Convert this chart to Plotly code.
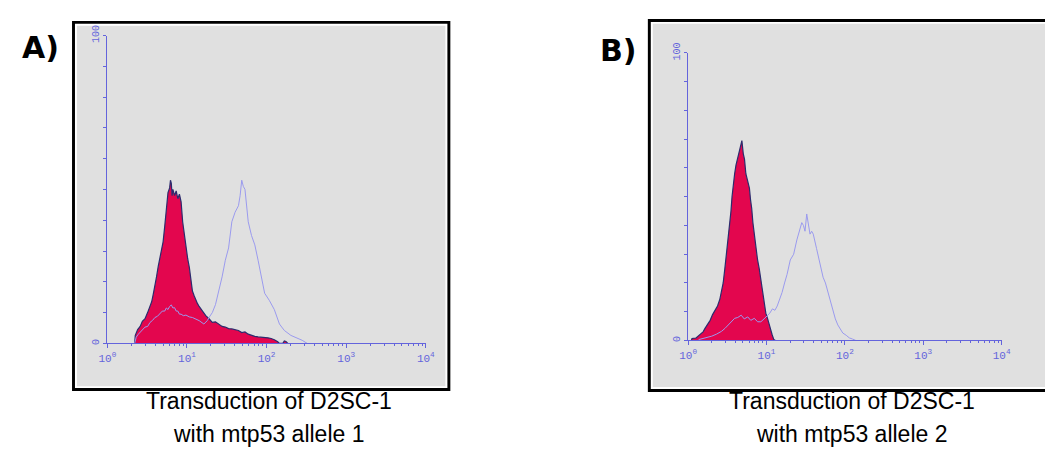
import plotly.graph_objects as go

# The page adds an 8 px body margin; the figure is sized so that the page is exactly 1053x468.
PAGE_W, PAGE_H = 1053, 468
MARGIN = 8
W, H = PAGE_W - 2 * MARGIN, PAGE_H - 2 * MARGIN

# ---------------- data ----------------
# Panel A : filled (control) histogram
a_fill_x = [2.2, 2.24, 2.4, 2.58, 2.75, 2.97, 3.2, 3.43, 3.6, 3.77, 3.95, 4.14, 4.35, 4.55, 4.78,
            5.01, 5.25, 5.51, 5.77, 6.05, 6.2, 6.35, 6.5, 6.65, 6.98, 7.31, 7.67, 8.03, 8.43, 8.82,
            9.27, 9.70, 10.2, 10.7, 11.2, 11.7, 12.3, 12.9, 13.5, 14.2, 15.6, 17.2, 18.9, 20.8,
            22.8, 25.1, 27.6, 30.3, 33.3, 36.6, 40.2, 44.3, 48.7, 53.5, 58.8, 64.7, 71.1, 78.2,
            86.0, 94.5, 104, 114, 125, 138, 145, 160, 167, 175, 185]
a_fill_y = [0, 2.6, 4.5, 5.5, 7.2, 8, 10, 12, 13.5, 16, 18.5, 21.6, 25, 28, 30.5,
            33, 38, 42.6, 49, 50.5, 53, 52, 48, 50, 48, 49.5, 47, 48.5, 46, 39.5,
            35, 31, 27.5, 24.7, 20, 17, 15.5, 14, 13, 12, 10.5, 9, 8, 6.8,
            7, 6.3, 5.5, 5.3, 4.8, 4.7, 4.4, 4.2, 3.5, 3.7, 3.0, 2.6, 2.3, 2.1,
            2.0, 2.1, 1.8, 1.6, 1.2, 0.5, 0, 0, 0.8, 0.6, 0]

# Panel A : open (mtp53 allele 1) histogram
a_open_x = [2.2, 2.3, 2.45, 2.58, 2.75, 2.97, 3.2, 3.43, 3.7, 3.95, 4.25, 4.55, 4.9, 5.25, 5.5,
            5.77, 6.05, 6.35, 6.65, 6.98, 7.31, 7.67, 8.03, 8.43, 9.0, 9.7, 10.7, 11.7, 12.9,
            14.2, 16.3, 18.0, 18.9, 20.8, 22.8, 25.1, 27.6, 30.3, 33.3, 36.6, 40.2, 44.3, 46.5,
            48.7, 51, 53.5, 56, 58.8, 64.7, 71.1, 78.2, 86.0, 94.5, 108, 125, 145, 167, 202,
            244, 280, 324]
a_open_y = [0, 2, 3, 3.7, 4.5, 5.3, 5.5, 6.8, 7.5, 8.4, 8.8, 9.5, 10.5, 10.5, 11.5,
            11, 12, 12.5, 11.5, 11.6, 10.5, 10.5, 9.5, 9.5, 9, 9.2, 8.6, 8.4, 8,
            7.4, 6.3, 7.4, 8.4, 10, 12.6, 17, 21.6, 27, 31, 39.5, 42.6, 44.7, 48,
            53, 51, 50, 44, 39.5, 35, 32, 27, 21.6, 16.3, 14, 11, 6.3, 4.2, 2.6,
            1.8, 1, 0]

# Panel B : filled (control) histogram
b_fill_x = [1.1, 1.12, 1.25, 1.43, 1.55, 1.65, 1.78, 1.91, 2.05, 2.20, 2.37, 2.54, 2.67, 2.80,
            2.94, 3.08, 3.24, 3.40, 3.52, 3.63, 3.78, 3.92, 4.08, 4.24, 4.38, 4.53, 4.7, 4.85,
            5.05, 5.24, 5.45, 5.65, 5.85, 6.05, 6.25, 6.47, 6.7, 6.99, 7.33, 7.69, 8.07, 8.47,
            8.9, 9.33, 9.8, 10.3, 10.8, 11.3, 11.8, 12.4, 13.0]
b_fill_y = [0, 0.7, 0.8, 2, 3, 4.3, 5.5, 7, 9, 10.5, 12, 14.4, 17, 20,
            25, 30, 35, 40, 45, 50, 55, 58, 61, 63, 64, 66, 68, 69.5,
            65, 63, 58, 56, 54, 53, 49, 46, 41, 37, 32, 28, 25, 21,
            16, 12, 9.5, 7.7, 5.5, 3.7, 2, 0.3, 0]

# Panel B : open (mtp53 allele 2) histogram
b_open_x = [1.36, 1.6, 2.0, 2.3, 2.67, 2.95, 3.24, 3.55, 3.92, 4.3, 4.75, 5.2, 5.76, 6.3, 6.99,
            7.7, 8.47, 9.3, 10.3, 11.0, 11.9, 12.8, 13.7, 14.7, 15.8, 17.0, 18.3, 20.1, 22.2,
            24.4, 26.9, 28.2, 29.6, 31.0, 32.6, 34.2, 35.9, 37.7, 39.5, 43.5, 47.9, 52.7, 56.5,
            60.9, 65.5, 70.4, 75.6, 81.3, 87.5, 94.0, 104, 114, 125, 138]
b_open_y = [0.3, 0.8, 1.5, 2.2, 3.2, 4.2, 5.4, 6.5, 7.7, 8, 8.8, 7.5, 8.2, 7, 7.7,
            6.5, 6.5, 7.5, 8.8, 9.5, 11, 10.5, 12, 14, 16.7, 20, 23, 28, 30,
            35, 39, 41, 40, 38, 44, 40, 37, 38, 37, 32, 27, 22, 20,
            16.7, 13, 10, 7.5, 5.4, 4, 2.6, 1.8, 0.9, 0.5, 0]

x_tick_vals = [1, 10, 100, 1000, 10000]
x_tick_text = ["10<sup>0</sup>", "10<sup>1</sup>", "10<sup>2</sup>", "10<sup>3</sup>", "10<sup>4</sup>"]
y_tick_vals = [0, 10, 20, 30, 40, 50, 60, 70, 80, 90, 100]
y_tick_text = ["0", "", "", "", "", "", "", "", "", "", "100"]

panel_letters = ["A)", "B)"]
caption_line1 = ["Transduction of D2SC-1", "Transduction of D2SC-1"]
caption_line2 = ["with mtp53 allele 1", "with mtp53 allele 2"]

# ---------------- styling ----------------
FILL = "#e3064e"
FILL_LINE = "#2c2c6e"
OPEN_LINE = "#9a9aee"
AXIS = "#6464dc"
GRAY = "#e0e0e0"


def px(x):
    """page pixel x -> paper fraction"""
    return (x - MARGIN) / W


def py(y):
    """page pixel y (from top) -> paper fraction"""
    return 1 - (y - MARGIN) / H


fig = go.Figure()
for fx, fy, ox, oy, xa, ya in [(a_fill_x, a_fill_y, a_open_x, a_open_y, "x", "y"),
                               (b_fill_x, b_fill_y, b_open_x, b_open_y, "x2", "y2")]:
    fig.add_trace(go.Scatter(x=fx, y=fy, mode="lines", fill="tozeroy", fillcolor=FILL,
                             line=dict(color=FILL_LINE, width=1.2), xaxis=xa, yaxis=ya,
                             showlegend=False, hoverinfo="skip"))
    fig.add_trace(go.Scatter(x=ox, y=oy, mode="lines",
                             line=dict(color=OPEN_LINE, width=1), xaxis=xa, yaxis=ya,
                             showlegend=False, hoverinfo="skip"))

minor_vals = [m * 10 ** d for d in range(4) for m in range(2, 10)]

xcommon = dict(type="log", range=[0, 4], showgrid=False, zeroline=False, showline=True,
               linecolor=AXIS, linewidth=1, ticks="outside", ticklen=4, tickcolor=AXIS,
               tickvals=x_tick_vals, ticktext=x_tick_text,
               tickfont=dict(family="Liberation Mono", size=11, color=AXIS),
               minor=dict(ticks="outside", ticklen=2, tickcolor=AXIS, tickvals=minor_vals))
ycommon = dict(range=[0, 100], showgrid=False, zeroline=False, showline=True,
               linecolor=AXIS, linewidth=1, ticks="outside", ticklen=3, tickcolor=AXIS,
               tickvals=y_tick_vals, ticktext=y_tick_text, tickangle=-90,
               tickfont=dict(family="Liberation Mono", size=10, color=AXIS))

fig.update_layout(
    width=W, height=H, autosize=False,
    margin=dict(l=0, r=0, t=0, b=0),
    paper_bgcolor="white", plot_bgcolor="rgba(0,0,0,0)",
    xaxis=dict(domain=[px(100), px(424)], anchor="y", **xcommon),
    yaxis=dict(domain=[py(342), py(25)], anchor="x", **ycommon),
    xaxis2=dict(domain=[px(691), px(1010)], anchor="y2", **xcommon),
    yaxis2=dict(domain=[py(339), py(43)], anchor="x2", **ycommon),
)

# frames: black border, thin white gap, gray panel (page-pixel boxes)
shapes = []
for (x0, y0, x1, y1) in [(64, 10, 449, 391), (650, 8, 1062, 392)]:
    shapes.append(dict(type="rect", xref="paper", yref="paper", layer="below",
                       x0=px(x0), x1=px(x1), y0=py(y1), y1=py(y0),
                       fillcolor="black", line=dict(width=0)))
    shapes.append(dict(type="rect", xref="paper", yref="paper", layer="below",
                       x0=px(x0 + 3), x1=px(x1 - 3), y0=py(y1 - 3), y1=py(y0 + 3),
                       fillcolor="white", line=dict(width=0)))
    shapes.append(dict(type="rect", xref="paper", yref="paper", layer="below",
                       x0=px(x0 + 5), x1=px(x1 - 5), y0=py(y1 - 5), y1=py(y0 + 5),
                       fillcolor=GRAY, line=dict(width=0)))
fig.update_layout(shapes=shapes)


def note(text, x, y, size, family="Liberation Sans"):
    return dict(text=text, x=px(x), y=py(y), xref="paper", yref="paper", showarrow=False,
                xanchor="center", yanchor="middle",
                font=dict(family=family, size=size, color="black"))


annotations = [
    note("<b>%s</b>" % panel_letters[0], 32, 37, 30, "DejaVu Sans"),
    note("<b>%s</b>" % panel_letters[1], 620, 40, 30, "DejaVu Sans"),
    note(caption_line1[0], 264, 401, 23),
    note(caption_line2[0], 264, 435, 23),
    note(caption_line1[1], 858, 401, 23),
    note(caption_line2[1], 858, 435, 23),
]
fig.update_layout(annotations=annotations)

fig.write_html("out.html", config={"displayModeBar": False})
